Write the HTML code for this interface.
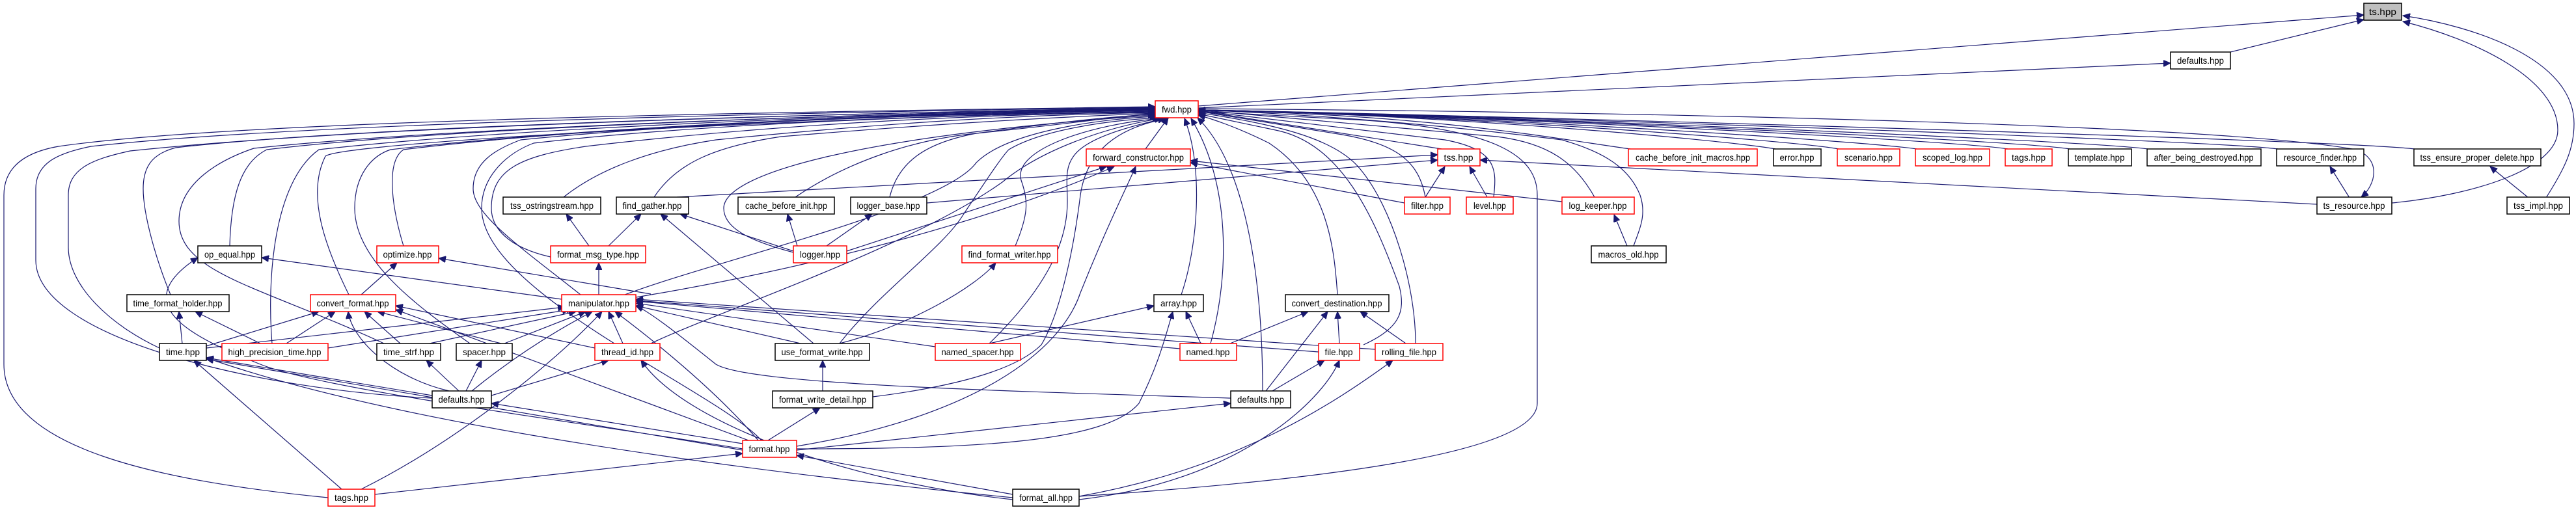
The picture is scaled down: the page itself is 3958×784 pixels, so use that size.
<!DOCTYPE html>
<html><head><meta charset="utf-8"><style>
html,body{margin:0;padding:0;background:#fff;}
svg{display:block;}
text{font-family:"Liberation Sans",sans-serif;font-size:14px;fill:#000;}
.e{fill:none;stroke:#191970;stroke-width:1.2;}
</style></head><body>
<svg width="3958" height="784" viewBox="0 0 3958 784" xmlns="http://www.w3.org/2000/svg">
<defs>
<marker id="a" markerUnits="userSpaceOnUse" markerWidth="12" markerHeight="10" refX="11" refY="5" orient="auto">
<path d="M0,0 L11,5 L0,10 z" fill="#191970" stroke="#191970"/>
</marker>
</defs>
<g class="e" marker-end="url(#a)">
<!-- right side -->
<path d="M1841,163 L3632,23"/>
<path d="M1841,166 L3335,97"/>
<path d="M3427,80 L3632,30"/>
<path d="M3675,312 C3800,300 3930,260 3930,200 C3930,120 3800,60 3692,33"/>
<path d="M3912,304 C3940,260 3955,230 3955,190 C3955,90 3800,40 3692,24"/>
<path d="M3885,304 L3826,256"/>
<path d="M3610,304 L3580,256"/>
<path d="M1841,167 C2500,172 3400,190 3620,230 C3660,245 3650,285 3628,303"/>
<path d="M3710,229 C3600,215 2200,175 1841,169"/>
<path d="M3500,229 C3400,215 2200,175 1841,169"/>
<path d="M3300,229 C3200,215 2200,175 1841,169"/>
<path d="M3180,229 C3100,215 2200,175 1841,169"/>
<path d="M3085,229 C3000,215 2200,175 1841,169"/>
<path d="M2945,229 C2850,215 2200,175 1841,169"/>
<path d="M2825,229 C2750,215 2200,175 1841,169"/>
<path d="M2728,229 C2650,215 2200,175 1841,169"/>
<path d="M2505,229 C2400,215 2200,175 1841,170"/>
<path d="M3560,314 L2274,246"/>
<path d="M2215,229 L1841,170"/>
<path d="M2190,303 C2180,250 2150,220 2050,205 L1841,171"/>
<path d="M2295,303 C2300,260 2300,230 2220,215 L1841,170"/>
<path d="M2450,303 C2420,250 2380,220 2300,210 L1841,169"/>
<path d="M2510,378 C2520,350 2530,330 2520,300 C2500,250 2450,230 2400,215 C2200,190 2000,175 1841,169"/>
<path d="M2190,303 L2220,256"/>
<path d="M2285,303 L2258,256"/>
<path d="M2500,378 L2480,330"/>
<path d="M2158,312 L1829,250"/>
<path d="M2400,310 L1829,247"/>
<!-- center -->
<path d="M1760,229 L1795,181"/>
<path d="M1815,453 C1840,380 1850,260 1820,182"/>
<path d="M1860,528 C1890,420 1890,280 1830,182"/>
<path d="M1940,601 C1940,450 1920,260 1840,181"/>
<path d="M2055,453 C2050,380 2040,280 1950,220 C1900,195 1860,182 1841,177"/>
<path d="M2095,530 C2150,505 2160,480 2150,440 C2110,330 2060,220 1960,200 L1841,175"/>
<path d="M2175,528 C2175,440 2140,320 2090,260 C2050,210 1950,190 1841,173"/>
<path d="M1658,763 C2000,740 2362,700 2362,620 L2362,300 C2362,240 2300,200 2100,185 L1841,171"/>
<path d="M1224,686 C1500,640 1630,540 1660,450 C1700,350 1730,290 1745,256"/>
<path d="M1301,386 L1700,256"/>
<path d="M977,457 C1200,420 1500,350 1712,256"/>
<path d="M1424,312 L2209,246"/>
<path d="M1040,303 L2209,238"/>
<path d="M1225,378 L1210,329"/>
<path d="M1270,378 L1340,329"/>
<path d="M1219,386 L1045,329"/>
<path d="M905,378 L870,329"/>
<path d="M935,378 L985,329"/>
<path d="M920,453 L920,404"/>
<path d="M863,460 L402,396"/>
<path d="M1000,452 L674,397"/>
<path d="M555,453 L610,404"/>
<path d="M280,528 L275,479"/>
<path d="M317,532 L490,479"/>
<path d="M317,535 L868,472"/>
<path d="M400,528 L300,479"/>
<path d="M440,528 L515,479"/>
<path d="M504,535 L875,476"/>
<path d="M615,528 L560,479"/>
<path d="M660,528 L885,479"/>
<path d="M770,528 L580,479"/>
<path d="M775,528 L900,479"/>
<path d="M914,535 L608,470"/>
<path d="M957,528 L935,479"/>
<path d="M1230,528 L977,470"/>
<path d="M1437,533 L977,466"/>
<path d="M1813,536 L977,463"/>
<path d="M2026,541 L977,462"/>
<path d="M2113,537 L977,460"/>
<path d="M1891,612 C1500,600 1150,590 1100,560 C1050,520 1000,480 977,470"/>
<path d="M1165,677 C1100,600 1000,520 945,479"/>
<path d="M1150,677 L608,476"/>
<path d="M705,601 L655,554"/>
<path d="M716,601 L740,554"/>
<path d="M725,601 C800,540 870,500 910,479"/>
<path d="M690,601 C600,580 540,520 535,479"/>
<path d="M664,608 L317,550"/>
<path d="M755,608 L935,554"/>
<path d="M525,752 L298,554"/>
<path d="M555,752 C700,680 850,560 925,479"/>
<path d="M1141,690 C900,650 500,600 400,560 C300,520 190,470 304,396"/>
<path d="M576,760 L1141,697"/>
<path d="M1141,692 L317,552"/>
<path d="M1141,682 L755,620"/>
<path d="M1556,760 L1224,700"/>
<path d="M1556,765 C1100,720 600,650 317,550"/>
<path d="M1556,768 C1300,740 1050,650 985,554"/>
<path d="M1658,768 C1900,740 2030,620 2058,554"/>
<path d="M1658,763 C1900,720 2050,620 2140,554"/>
<path d="M1180,677 L1260,627"/>
<path d="M1264,601 L1264,554"/>
<path d="M1250,528 L1015,329"/>
<path d="M1290,528 C1400,500 1500,440 1530,404"/>
<path d="M1520,528 L1773,470"/>
<path d="M1845,528 L1822,479"/>
<path d="M1890,528 L2010,479"/>
<path d="M1945,601 L2040,479"/>
<path d="M1955,601 L2035,554"/>
<path d="M1224,690 C1500,690 1700,680 1750,620 C1780,560 1790,520 1802,479"/>
<path d="M1224,692 L1891,620"/>
<path d="M2058,528 L2055,479"/>
<path d="M2160,528 L2090,479"/>
<!-- left fan to fwd -->
<path d="M504,765 C250,740 6,690 6,560 L6,300 C6,250 50,232 90,225 C400,180 1400,170 1775,164"/>
<path d="M664,612 C400,600 55,520 55,400 L55,290 C55,250 90,235 140,225 C500,185 1400,170 1775,165"/>
<path d="M245,535 C170,500 105,440 105,380 L105,300 C105,260 140,245 200,232 C600,190 1400,172 1775,166"/>
<path d="M262,453 C240,400 220,330 220,290 C220,250 240,235 270,227 C600,190 1400,172 1775,166"/>
<path d="M590,528 C400,440 275,420 275,340 C275,280 340,245 390,228 C700,195 1400,172 1775,167"/>
<path d="M353,378 C355,300 370,250 410,230 C700,195 1400,172 1775,167"/>
<path d="M418,528 C410,430 420,280 490,230 C800,195 1400,173 1775,168"/>
<path d="M536,453 C500,380 470,300 500,240 C520,225 900,195 1775,168"/>
<path d="M722,528 C640,470 545,400 545,320 C545,270 570,240 600,230 C900,195 1400,173 1775,169"/>
<path d="M620,378 C605,330 590,250 620,230 C900,195 1400,174 1775,169"/>
<path d="M892,453 C800,380 727,330 727,290 C727,250 760,230 800,215 C1100,185 1500,174 1775,170"/>
<path d="M1170,677 C1100,600 740,450 740,320 C740,270 780,235 820,220 C1100,188 1500,176 1775,171"/>
<path d="M846,395 C780,380 755,350 755,320 C755,260 800,240 900,225 C1200,190 1500,176 1775,172"/>
<path d="M866,303 C920,260 1000,230 1100,215 C1400,185 1600,176 1775,173"/>
<path d="M1005,303 C1040,250 1100,225 1200,210 C1500,185 1700,177 1775,174"/>
<path d="M1222,303 C1300,250 1400,215 1500,205 C1650,190 1720,178 1775,175"/>
<path d="M1367,303 C1380,250 1420,220 1500,205 C1650,185 1720,178 1775,176"/>
<path d="M1219,388 C1150,370 1112,350 1112,320 C1112,270 1300,210 1775,177"/>
<path d="M960,453 C1100,400 1450,320 1500,250 C1550,200 1700,182 1778,179"/>
<path d="M1290,528 C1350,450 1450,380 1480,330 C1520,270 1540,240 1550,230 C1600,200 1700,185 1782,181"/>
<path d="M1520,528 C1600,450 1640,380 1640,310 C1640,250 1620,220 1790,182"/>
<path d="M1560,378 C1580,330 1580,310 1570,280 C1550,230 1680,190 1785,182"/>
<path d="M1000,528 C1100,480 1400,380 1540,280 C1600,230 1700,195 1785,182"/>
<path d="M1341,610 C1500,590 1570,560 1600,530 C1630,480 1650,380 1660,300 C1670,230 1720,195 1795,182"/>
</g>
<g stroke-width="1.5">
<rect x="3632" y="5" width="58" height="26" fill="#bfbfbf" stroke="#000"/><text x="3661" y="23" text-anchor="middle" textLength="42" lengthAdjust="spacingAndGlyphs">ts.hpp</text>
<rect x="3335" y="80" width="92" height="26" fill="#fff" stroke="#000"/><text x="3381" y="98" text-anchor="middle" textLength="72" lengthAdjust="spacingAndGlyphs">defaults.hpp</text>
<rect x="1775" y="155" width="66" height="26" fill="#fff" stroke="#f00"/><text x="1808" y="173" text-anchor="middle" textLength="46" lengthAdjust="spacingAndGlyphs">fwd.hpp</text>
<rect x="1669" y="229" width="160" height="26" fill="#fff" stroke="#f00"/><text x="1749" y="247" text-anchor="middle" textLength="140" lengthAdjust="spacingAndGlyphs">forward_constructor.hpp</text>
<rect x="2209" y="229" width="65" height="26" fill="#fff" stroke="#f00"/><text x="2241" y="247" text-anchor="middle" textLength="45" lengthAdjust="spacingAndGlyphs">tss.hpp</text>
<rect x="2502" y="229" width="198" height="26" fill="#fff" stroke="#f00"/><text x="2601" y="247" text-anchor="middle" textLength="176" lengthAdjust="spacingAndGlyphs">cache_before_init_macros.hpp</text>
<rect x="2725" y="229" width="73" height="26" fill="#fff" stroke="#000"/><text x="2761" y="247" text-anchor="middle" textLength="53" lengthAdjust="spacingAndGlyphs">error.hpp</text>
<rect x="2823" y="229" width="96" height="26" fill="#fff" stroke="#f00"/><text x="2871" y="247" text-anchor="middle" textLength="74" lengthAdjust="spacingAndGlyphs">scenario.hpp</text>
<rect x="2943" y="229" width="114" height="26" fill="#fff" stroke="#f00"/><text x="3000" y="247" text-anchor="middle" textLength="92" lengthAdjust="spacingAndGlyphs">scoped_log.hpp</text>
<rect x="3081" y="229" width="72" height="26" fill="#fff" stroke="#f00"/><text x="3117" y="247" text-anchor="middle" textLength="52" lengthAdjust="spacingAndGlyphs">tags.hpp</text>
<rect x="3178" y="229" width="97" height="26" fill="#fff" stroke="#000"/><text x="3226" y="247" text-anchor="middle" textLength="77" lengthAdjust="spacingAndGlyphs">template.hpp</text>
<rect x="3299" y="229" width="175" height="26" fill="#fff" stroke="#000"/><text x="3386" y="247" text-anchor="middle" textLength="153" lengthAdjust="spacingAndGlyphs">after_being_destroyed.hpp</text>
<rect x="3498" y="229" width="134" height="26" fill="#fff" stroke="#000"/><text x="3565" y="247" text-anchor="middle" textLength="112" lengthAdjust="spacingAndGlyphs">resource_finder.hpp</text>
<rect x="3709" y="229" width="195" height="26" fill="#fff" stroke="#000"/><text x="3806" y="247" text-anchor="middle" textLength="175" lengthAdjust="spacingAndGlyphs">tss_ensure_proper_delete.hpp</text>
<rect x="773" y="303" width="150" height="26" fill="#fff" stroke="#000"/><text x="848" y="321" text-anchor="middle" textLength="128" lengthAdjust="spacingAndGlyphs">tss_ostringstream.hpp</text>
<rect x="947" y="303" width="111" height="26" fill="#fff" stroke="#000"/><text x="1002" y="321" text-anchor="middle" textLength="91" lengthAdjust="spacingAndGlyphs">find_gather.hpp</text>
<rect x="1134" y="303" width="148" height="26" fill="#fff" stroke="#000"/><text x="1208" y="321" text-anchor="middle" textLength="126" lengthAdjust="spacingAndGlyphs">cache_before_init.hpp</text>
<rect x="1307" y="303" width="117" height="26" fill="#fff" stroke="#000"/><text x="1365" y="321" text-anchor="middle" textLength="97" lengthAdjust="spacingAndGlyphs">logger_base.hpp</text>
<rect x="2158" y="303" width="70" height="26" fill="#fff" stroke="#f00"/><text x="2193" y="321" text-anchor="middle" textLength="50" lengthAdjust="spacingAndGlyphs">filter.hpp</text>
<rect x="2253" y="303" width="72" height="26" fill="#fff" stroke="#f00"/><text x="2289" y="321" text-anchor="middle" textLength="50" lengthAdjust="spacingAndGlyphs">level.hpp</text>
<rect x="2400" y="303" width="111" height="26" fill="#fff" stroke="#f00"/><text x="2455" y="321" text-anchor="middle" textLength="89" lengthAdjust="spacingAndGlyphs">log_keeper.hpp</text>
<rect x="3560" y="303" width="115" height="26" fill="#fff" stroke="#000"/><text x="3617" y="321" text-anchor="middle" textLength="95" lengthAdjust="spacingAndGlyphs">ts_resource.hpp</text>
<rect x="3852" y="303" width="96" height="26" fill="#fff" stroke="#000"/><text x="3900" y="321" text-anchor="middle" textLength="76" lengthAdjust="spacingAndGlyphs">tss_impl.hpp</text>
<rect x="304" y="378" width="98" height="26" fill="#fff" stroke="#000"/><text x="353" y="396" text-anchor="middle" textLength="78" lengthAdjust="spacingAndGlyphs">op_equal.hpp</text>
<rect x="579" y="378" width="95" height="26" fill="#fff" stroke="#f00"/><text x="626" y="396" text-anchor="middle" textLength="75" lengthAdjust="spacingAndGlyphs">optimize.hpp</text>
<rect x="846" y="378" width="146" height="26" fill="#fff" stroke="#f00"/><text x="919" y="396" text-anchor="middle" textLength="126" lengthAdjust="spacingAndGlyphs">format_msg_type.hpp</text>
<rect x="1219" y="378" width="82" height="26" fill="#fff" stroke="#f00"/><text x="1260" y="396" text-anchor="middle" textLength="62" lengthAdjust="spacingAndGlyphs">logger.hpp</text>
<rect x="1478" y="378" width="147" height="26" fill="#fff" stroke="#f00"/><text x="1551" y="396" text-anchor="middle" textLength="127" lengthAdjust="spacingAndGlyphs">find_format_writer.hpp</text>
<rect x="2445" y="378" width="115" height="26" fill="#fff" stroke="#000"/><text x="2502" y="396" text-anchor="middle" textLength="93" lengthAdjust="spacingAndGlyphs">macros_old.hpp</text>
<rect x="195" y="453" width="157" height="26" fill="#fff" stroke="#000"/><text x="273" y="471" text-anchor="middle" textLength="137" lengthAdjust="spacingAndGlyphs">time_format_holder.hpp</text>
<rect x="477" y="453" width="131" height="26" fill="#fff" stroke="#f00"/><text x="542" y="471" text-anchor="middle" textLength="111" lengthAdjust="spacingAndGlyphs">convert_format.hpp</text>
<rect x="863" y="453" width="114" height="26" fill="#fff" stroke="#f00"/><text x="920" y="471" text-anchor="middle" textLength="94" lengthAdjust="spacingAndGlyphs">manipulator.hpp</text>
<rect x="1773" y="453" width="76" height="26" fill="#fff" stroke="#000"/><text x="1811" y="471" text-anchor="middle" textLength="56" lengthAdjust="spacingAndGlyphs">array.hpp</text>
<rect x="1975" y="453" width="159" height="26" fill="#fff" stroke="#000"/><text x="2054" y="471" text-anchor="middle" textLength="139" lengthAdjust="spacingAndGlyphs">convert_destination.hpp</text>
<rect x="245" y="528" width="72" height="26" fill="#fff" stroke="#000"/><text x="281" y="546" text-anchor="middle" textLength="52" lengthAdjust="spacingAndGlyphs">time.hpp</text>
<rect x="341" y="528" width="163" height="26" fill="#fff" stroke="#f00"/><text x="422" y="546" text-anchor="middle" textLength="143" lengthAdjust="spacingAndGlyphs">high_precision_time.hpp</text>
<rect x="579" y="528" width="98" height="26" fill="#fff" stroke="#000"/><text x="628" y="546" text-anchor="middle" textLength="78" lengthAdjust="spacingAndGlyphs">time_strf.hpp</text>
<rect x="701" y="528" width="86" height="26" fill="#fff" stroke="#000"/><text x="744" y="546" text-anchor="middle" textLength="66" lengthAdjust="spacingAndGlyphs">spacer.hpp</text>
<rect x="914" y="528" width="100" height="26" fill="#fff" stroke="#f00"/><text x="964" y="546" text-anchor="middle" textLength="80" lengthAdjust="spacingAndGlyphs">thread_id.hpp</text>
<rect x="1191" y="528" width="145" height="26" fill="#fff" stroke="#000"/><text x="1263" y="546" text-anchor="middle" textLength="125" lengthAdjust="spacingAndGlyphs">use_format_write.hpp</text>
<rect x="1437" y="528" width="131" height="26" fill="#fff" stroke="#f00"/><text x="1502" y="546" text-anchor="middle" textLength="111" lengthAdjust="spacingAndGlyphs">named_spacer.hpp</text>
<rect x="1813" y="528" width="87" height="26" fill="#fff" stroke="#f00"/><text x="1856" y="546" text-anchor="middle" textLength="67" lengthAdjust="spacingAndGlyphs">named.hpp</text>
<rect x="2026" y="528" width="63" height="26" fill="#fff" stroke="#f00"/><text x="2057" y="546" text-anchor="middle" textLength="43" lengthAdjust="spacingAndGlyphs">file.hpp</text>
<rect x="2113" y="528" width="104" height="26" fill="#fff" stroke="#f00"/><text x="2165" y="546" text-anchor="middle" textLength="84" lengthAdjust="spacingAndGlyphs">rolling_file.hpp</text>
<rect x="664" y="601" width="91" height="26" fill="#fff" stroke="#000"/><text x="709" y="619" text-anchor="middle" textLength="71" lengthAdjust="spacingAndGlyphs">defaults.hpp</text>
<rect x="1187" y="601" width="154" height="26" fill="#fff" stroke="#000"/><text x="1264" y="619" text-anchor="middle" textLength="134" lengthAdjust="spacingAndGlyphs">format_write_detail.hpp</text>
<rect x="1891" y="601" width="92" height="26" fill="#fff" stroke="#000"/><text x="1937" y="619" text-anchor="middle" textLength="72" lengthAdjust="spacingAndGlyphs">defaults.hpp</text>
<rect x="1141" y="677" width="83" height="26" fill="#fff" stroke="#f00"/><text x="1182" y="695" text-anchor="middle" textLength="63" lengthAdjust="spacingAndGlyphs">format.hpp</text>
<rect x="504" y="752" width="72" height="26" fill="#fff" stroke="#f00"/><text x="540" y="770" text-anchor="middle" textLength="52" lengthAdjust="spacingAndGlyphs">tags.hpp</text>
<rect x="1556" y="752" width="102" height="26" fill="#fff" stroke="#000"/><text x="1607" y="770" text-anchor="middle" textLength="82" lengthAdjust="spacingAndGlyphs">format_all.hpp</text>
</g>
</svg>
</body></html>
